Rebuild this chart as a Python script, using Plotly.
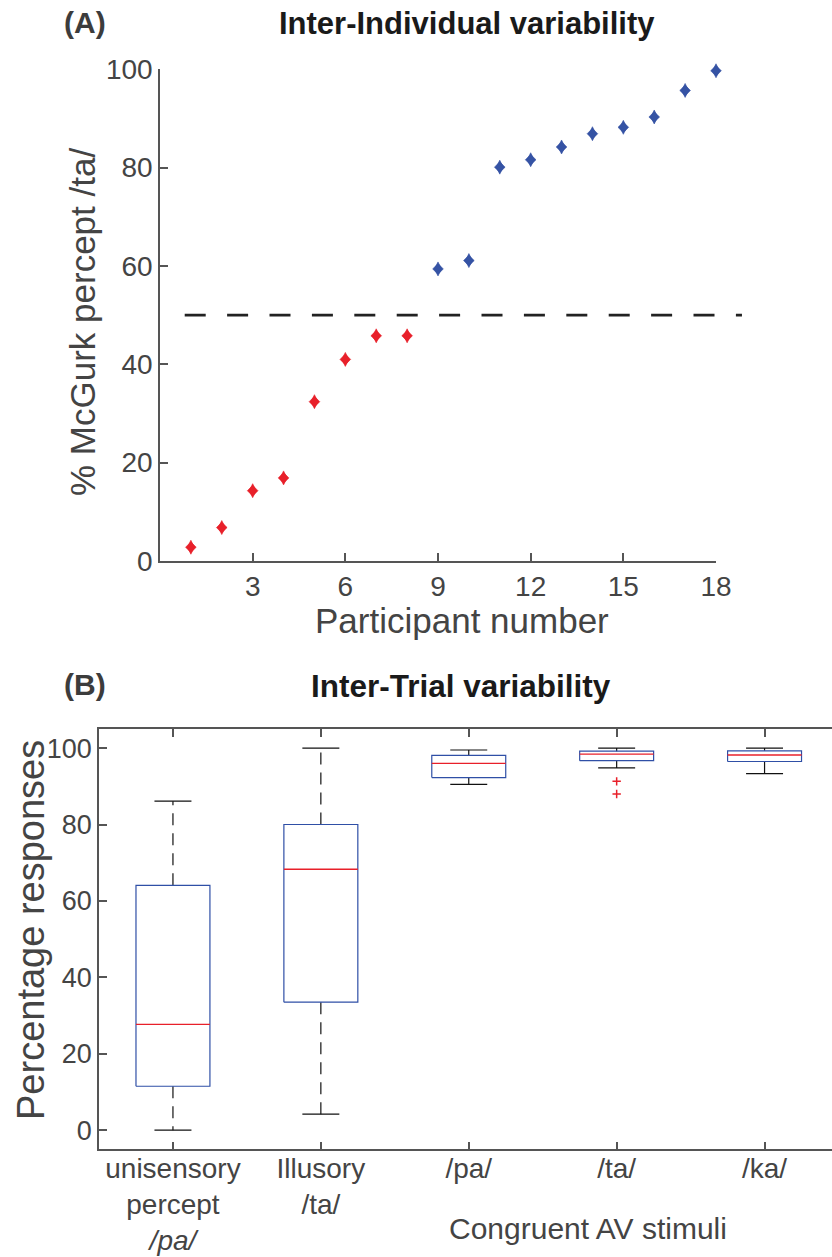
import plotly.graph_objects as go

W, H = 832, 1257

# ---------------- data ----------------
participants = list(range(1, 19))
mcgurk_pct = [2.8, 6.8, 14.3, 16.9, 32.4, 41.0, 45.8, 45.8,
              59.4, 61.1, 80.1, 81.6, 84.2, 86.9, 88.2, 90.3, 95.7, 99.7]
threshold = 50
top_xticks = [3, 6, 9, 12, 15, 18]
top_yticks = [0, 20, 40, 60, 80, 100]

box_labels = ["unisensory<br>percept<br><i>/pa/</i>", "Illusory<br>/ta/", "/pa/", "/ta/", "/ka/"]
box_lower = [0.0, 4.2, 90.5, 94.8, 93.3]
box_q1 = [11.5, 33.5, 92.3, 96.7, 96.5]
box_median = [27.7, 68.3, 96.0, 98.4, 98.2]
box_q3 = [64.1, 80.0, 98.1, 99.2, 99.3]
box_upper = [86.1, 100.0, 99.5, 100.0, 100.0]
outlier_group = [4, 4]
outlier_vals = [91.3, 88.0]
bot_yticks = [0, 20, 40, 60, 80, 100]

# ---------------- styles ----------------
FONT = "Liberation Sans, Arial, sans-serif"
TXT = "#444444"
AX = "#555555"
RED = "#e8202a"
BLUE = "#3553a4"
BOXBLUE = "#2f4fa6"

XD1 = [160 / W, 716 / W]
YD1 = [1 - 561 / H, 1 - 69.3 / H]
XR1 = [0, 18]
XD2 = [99 / W, 1.0]
YD2 = [1 - 1149.3 / H, 1 - 729 / H]
XR2 = [0.5, 5.456]
BW = 0.25   # box half width
CW = 0.125  # cap half width

fig = go.Figure()

# ---- top panel: diamond markers (two overlaid symbols give a slightly tall diamond) ----
colors = [RED if v < threshold else BLUE for v in mcgurk_pct]
for sym, sz in (("diamond", 8.2), ("diamond-tall", 10)):
    fig.add_trace(go.Scatter(
        x=participants, y=mcgurk_pct, mode="markers", cliponaxis=False,
        marker=dict(symbol=sym, size=sz, color=colors,
                    line=dict(color=colors, width=0.6)),
        xaxis="x", yaxis="y", showlegend=False, hoverinfo="skip"))


def to_paper_x(v, dom, rng):
    return dom[0] + (v - rng[0]) / (rng[1] - rng[0]) * (dom[1] - dom[0])


dash_x = [0.8, 18.84]
fig.add_shape(type="line", xref="paper", yref="y",
              x0=to_paper_x(dash_x[0], XD1, XR1), x1=to_paper_x(dash_x[1], XD1, XR1),
              y0=threshold, y1=threshold,
              line=dict(color="#222222", width=2.8, dash="21px,21.4px"))

# ---- bottom panel (boxplots) ----
rx, ry, mx, my = [], [], [], []
wx, wy, cx, cy = [], [], [], []
for i in range(len(box_labels)):
    c = i + 1
    rx += [c - BW, c + BW, c + BW, c - BW, c - BW, None]
    ry += [box_q1[i], box_q1[i], box_q3[i], box_q3[i], box_q1[i], None]
    mx += [c - BW, c + BW, None]
    my += [box_median[i], box_median[i], None]
    wx += [c, c, None, c, c, None]
    wy += [box_q3[i], box_upper[i], None, box_q1[i], box_lower[i], None]
    cx += [c - CW, c + CW, None, c - CW, c + CW, None]
    cy += [box_upper[i], box_upper[i], None, box_lower[i], box_lower[i], None]

fig.add_trace(go.Scatter(x=wx, y=wy, mode="lines", xaxis="x2", yaxis="y2",
                         line=dict(color="#111111", width=1.2, dash="12px,8px"),
                         showlegend=False, hoverinfo="skip"))
fig.add_trace(go.Scatter(x=cx, y=cy, mode="lines", xaxis="x2", yaxis="y2",
                         line=dict(color="#111111", width=1.2),
                         showlegend=False, hoverinfo="skip"))
fig.add_trace(go.Scatter(x=rx, y=ry, mode="lines", xaxis="x2", yaxis="y2",
                         line=dict(color=BOXBLUE, width=1.2),
                         showlegend=False, hoverinfo="skip"))
fig.add_trace(go.Scatter(x=mx, y=my, mode="lines", xaxis="x2", yaxis="y2",
                         line=dict(color=RED, width=1.3),
                         showlegend=False, hoverinfo="skip"))
fig.add_trace(go.Scatter(x=outlier_group, y=outlier_vals, mode="markers",
                         xaxis="x2", yaxis="y2",
                         marker=dict(symbol="cross-thin", size=6,
                                     line=dict(color=RED, width=1.5)),
                         showlegend=False, hoverinfo="skip"))

axis_common = dict(showgrid=False, zeroline=False, showline=True, linecolor=AX,
                   linewidth=1.5, ticks="inside", ticklen=8, tickwidth=1.5,
                   automargin=False, tickcolor=AX)

fig.update_layout(
    template="none",
    width=W, height=H, margin=dict(l=0, r=0, t=0, b=0, pad=0, autoexpand=False),
    paper_bgcolor="white", plot_bgcolor="white", showlegend=False,
    xaxis=dict(domain=XD1, range=XR1, anchor="y", tickvals=top_xticks,
               tickfont=dict(family=FONT, size=28, color=TXT), **axis_common),
    yaxis=dict(domain=YD1, range=[0, 100], anchor="x", tickvals=top_yticks,
               tickfont=dict(family=FONT, size=28, color=TXT), **axis_common),
    xaxis2=dict(domain=XD2, range=XR2, anchor="y2", tickvals=list(range(1, 6)),
                ticktext=box_labels, mirror="ticks", ticklabelstandoff=-7,
                tickfont=dict(family=FONT, size=28, color=TXT), **axis_common),
    yaxis2=dict(domain=YD2, range=[-5, 105], anchor="x2", tickvals=bot_yticks,
                tickfont=dict(family=FONT, size=27, color=TXT), **axis_common),
)


def ann(text, px, py, size, color=TXT, bold=False, angle=0, xanchor="center"):
    if bold:
        text = "<b>" + text + "</b>"
    fig.add_annotation(text=text, x=px / W, y=1 - py / H, xref="paper", yref="paper",
                       showarrow=False, textangle=angle, xanchor=xanchor, yanchor="middle",
                       font=dict(family=FONT, size=size, color=color))


ann("(A)", 62, 22, 30, color="#3c3c3c", bold=True, xanchor="left")
ann("Inter-Individual variability", 467, 24, 31, color="#1a1a1a", bold=True)
ann("Participant number", 462, 620, 35)
ann("% McGurk percept /ta/", 82, 322, 35, angle=-90)

ann("(B)", 62, 684, 30, color="#3c3c3c", bold=True, xanchor="left")
ann("Inter-Trial variability", 461, 686, 31.5, color="#1a1a1a", bold=True)
ann("Percentage responses", 31, 930, 38, angle=-90)
ann("Congruent AV stimuli", 588, 1228, 30)

fig.write_html("out.html")
